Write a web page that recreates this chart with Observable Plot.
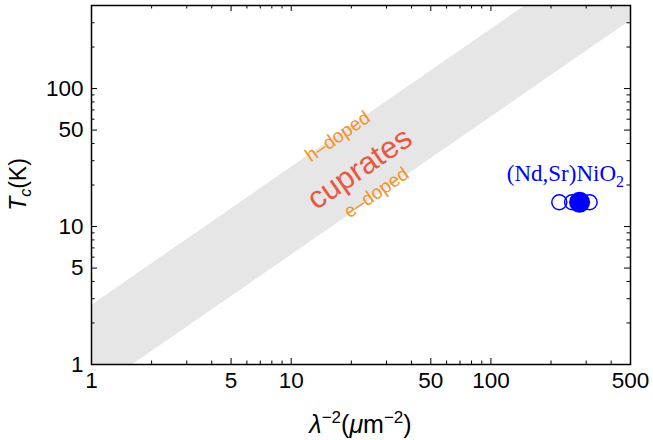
<!DOCTYPE html>
<html><head><meta charset="utf-8">
<script src="https://cdn.jsdelivr.net/npm/d3@7"></script>
<script src="https://cdn.jsdelivr.net/npm/@observablehq/plot@0.6"></script>
<style>body{margin:0;background:#fff} svg{display:block}</style>
</head><body><div id="chart"></div>
<script>
// Cuprate band (Uemura line band), edges
const bandX = [1, 500];
const bandLow = [0.62, 310];
const bandHigh = [2.68, 1340];

// (Nd,Sr)NiO2 points
const openX = [220, 255, 278, 312];
const openY = [15, 15, 15, 15];
const filledX = [278];
const filledY = [15];

// Band annotations
const bandText = ["h–doped", "cuprates", "e–doped"];
const bandTextX = [17.1, 22.0, 26.7];
const bandTextY = [44.9, 26.3, 17.6];

// Nickelate label
const nickLabel = "(Nd,Sr)NiO2";
const nickLabelX = [236];
const nickLabelY = [24.2];

// Ticks
const majorX = [1, 5, 10, 50, 100, 500];
const minorX = [2, 3, 4, 6, 7, 8, 9, 20, 30, 40, 60, 70, 80, 90, 200, 300, 400];
const majorY = [1, 5, 10, 50, 100];
const minorY = [2, 3, 4, 6, 7, 8, 9, 20, 30, 40, 60, 70, 80, 90, 200, 300];

const W = 653, H = 440, ML = 91, MR = 23, MT = 5, MB = 76;
const PH = H - MT - MB, PW = W - ML - MR;
const band = bandX.map((x, i) => ({x, lo: bandLow[i], hi: bandHigh[i]}));
const labels = bandText.map((t, i) => ({t, x: bandTextX[i], y: bandTextY[i]}));
const angle = -Math.atan((PH / Math.log10(400)) / (PW / Math.log10(500))) * 180 / Math.PI;

const sans = "Liberation Sans, Arial, Helvetica, sans-serif";
const chart = Plot.plot({
  width: W, height: H, marginLeft: ML, marginRight: MR, marginTop: MT, marginBottom: MB,
  style: {fontFamily: sans, fontSize: "22px", color: "black", background: "white"},
  x: {type: "log", domain: [1, 500], axis: null},
  y: {type: "log", domain: [1, 400], axis: null},
  marks: [
    Plot.areaY(band, {x: "x", y1: "lo", y2: "hi", fill: "#e6e6e6", clip: true}),
    Plot.text([labels[0]], {x: "x", y: "y", text: "t", rotate: angle, fill: "#f39325", fontSize: 19, fontFamily: sans}),
    Plot.text([labels[1]], {x: "x", y: "y", text: "t", rotate: angle, fill: "#e9573f", fontSize: 31, fontFamily: sans}),
    Plot.text([labels[2]], {x: "x", y: "y", text: "t", rotate: angle, fill: "#f39325", fontSize: 19, fontFamily: sans}),
    Plot.dot(openX.map((x, i) => ({x, y: openY[i]})), {x: "x", y: "y", r: 7.5, stroke: "#0000ff", strokeWidth: 1.5, fill: "none"}),
    Plot.dot(filledX.map((x, i) => ({x, y: filledY[i]})), {x: "x", y: "y", r: 10.5, fill: "#0000ff", stroke: "none"}),
    Plot.text([0], {x: () => nickLabelX[0], y: () => nickLabelY[0], text: () => nickLabel, fill: "#0000ff", fontSize: 23, fontFamily: "Liberation Serif, Times New Roman, serif"}),
    // inward ticks on all four sides
    Plot.tickX(majorX, {x: d => d, insetTop: PH - 6, stroke: "black", strokeWidth: 1}),
    Plot.tickX(minorX, {x: d => d, insetTop: PH - 3.5, stroke: "black", strokeWidth: 1}),
    Plot.tickX(majorX, {x: d => d, insetBottom: PH - 6, stroke: "black", strokeWidth: 1}),
    Plot.tickX(minorX, {x: d => d, insetBottom: PH - 3.5, stroke: "black", strokeWidth: 1}),
    Plot.tickY(majorY, {y: d => d, insetRight: PW - 6, stroke: "black", strokeWidth: 1}),
    Plot.tickY(minorY, {y: d => d, insetRight: PW - 3.5, stroke: "black", strokeWidth: 1}),
    Plot.tickY(majorY, {y: d => d, insetLeft: PW - 6, stroke: "black", strokeWidth: 1}),
    Plot.tickY(minorY, {y: d => d, insetLeft: PW - 3.5, stroke: "black", strokeWidth: 1}),
    Plot.frame({stroke: "black", strokeWidth: 1.5}),
    // tick labels
    Plot.text(majorX, {x: d => d, frameAnchor: "bottom", lineAnchor: "top", dy: 8, text: d => String(d), fill: "black", fontSize: 22.5, fontFamily: sans}),
    Plot.text(majorY, {y: d => d, frameAnchor: "left", textAnchor: "end", dx: -8, text: d => String(d), fill: "black", fontSize: 22.5, fontFamily: sans})
  ]
});
document.getElementById("chart").appendChild(chart);

const svg = d3.select(chart);
// subscript in nickelate label
svg.selectAll("text").filter(function () { return this.textContent === nickLabel; }).each(function () {
  const t = d3.select(this);
  t.text("(Nd,Sr)NiO");
  t.append("tspan").attr("dy", 6).attr("font-size", 16).text("2");
});

// axis labels
const xl = svg.append("text").attr("x", ML + PW / 2).attr("y", 433).attr("text-anchor", "middle")
  .attr("font-family", sans).attr("font-size", 25).attr("fill", "black");
xl.append("tspan").attr("font-style", "italic").text("λ");
xl.append("tspan").attr("dy", -10).attr("font-size", 17).text("−2");
xl.append("tspan").attr("dy", 10).text("(");
xl.append("tspan").attr("font-style", "italic").text("μ");
xl.append("tspan").text("m");
xl.append("tspan").attr("dy", -10).attr("font-size", 17).text("−2");
xl.append("tspan").attr("dy", 10).text(")");

const yl = svg.append("text").attr("transform", `translate(26,${MT + PH / 2}) rotate(-90)`).attr("text-anchor", "middle")
  .attr("font-family", sans).attr("font-size", 23).attr("fill", "black");
yl.append("tspan").attr("font-style", "italic").text("T");
yl.append("tspan").attr("dy", 5).attr("font-size", 16).attr("font-style", "italic").text("c");
yl.append("tspan").attr("dy", -5).text("(K)");
</script>
</body></html>
